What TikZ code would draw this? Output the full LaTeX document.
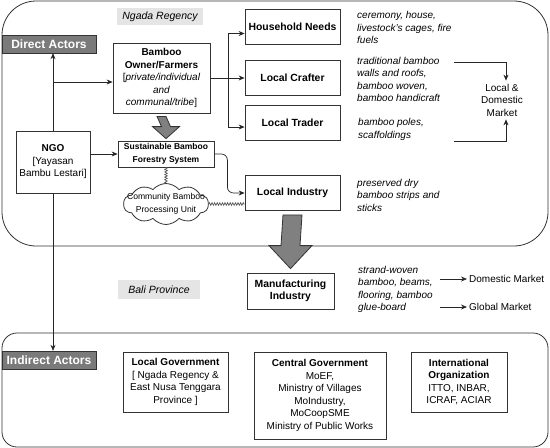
\documentclass[tikz,border=0pt]{standalone}
\usepackage{fontspec}
\setmainfont{Liberation Sans}
\usetikzlibrary{arrows.meta, shapes.symbols, decorations.pathmorphing, calc}

% fat block arrow: #1 top, #2 tip, #3 shaft half width, #4 head half width, #5 head length
\newcommand\fatarrow[5]{%
    \draw[fat_arrow] ($(#1)+(-#3,0)$) -- ($(#1)+(#3,0)$) -- ($(#2)+(#3,-#5)$) -- ($(#2)+(#4,-#5)$)
        -- (#2) -- ($(#2)+(-#4,-#5)$) -- ($(#2)+(-#3,-#5)$) -- cycle;}

\begin{document}
\begin{tikzpicture}[
    x=1pt, y=-1pt,
    base_font/.style={font=\fontsize{10}{12.5}\selectfont},
    box_style/.style={draw=black!80, line width=0.8pt, fill=white, align=center, inner sep=0pt, base_font},
    bold_box/.style={box_style, font=\fontsize{10.4}{12.5}\selectfont\bfseries, minimum width=95pt, minimum height=35pt},
    note_style/.style={align=left, inner sep=0pt, anchor=west, font=\fontsize{10}{12.5}\selectfont\itshape},
    actor_style/.style={draw=black!80, fill=black!52, text=white, inner sep=0pt, font=\fontsize{12}{14}\selectfont\bfseries, minimum width=94pt, minimum height=18pt},
    place_style/.style={fill=black!10, inner sep=0pt, font=\fontsize{10.5}{12}\selectfont\itshape},
    region_style/.style={draw=black!80, line width=0.8pt},
    arrow_style/.style={-{Stealth[length=6pt, width=5pt]}, black!85, line width=0.7pt},
    line_style/.style={black!85, line width=0.7pt},
    zigzag_style/.style={black!65, line width=0.7pt, decorate, decoration={zigzag, amplitude=1.3pt, segment length=2.6pt}},
    fat_arrow/.style={draw=black!80, fill=black!50, line width=0.8pt, line join=miter}
]
    \useasboundingbox (0,0) rectangle (550,448);

    % --- Regions ---
    \draw[region_style, rounded corners=34pt] (2,1) rectangle (548,246);
    \draw[region_style, rounded corners=15pt] (2,333) rectangle (548,447);

    % --- Region labels ---
    \node[actor_style] (direct) at (49,44) {Direct Actors};
    \node[actor_style] (indirect) at (49,360) {Indirect Actors};
    \node[place_style, minimum width=86pt, minimum height=17pt] (ngada) at (160,16.5) {Ngada Regency};
    \node[place_style, minimum width=82pt, minimum height=19pt] (bali) at (159,289.5) {Bali Province};

    % --- Direct actors ---
    \node[box_style, minimum width=97pt, minimum height=70pt] (bamboo) at (161.5,78)
        {\textbf{Bamboo}\\ \textbf{Owner/Farmers}\\ {[}\textit{private/individual}\\ \textit{and}\\ \textit{communal/tribe}{]}};
    \node[box_style, minimum width=96pt, minimum height=26pt, font=\fontsize{8.5}{12.5}\selectfont\bfseries] (sbfs) at (166,154)
        {Sustainable Bamboo\\ Forestry System};
    \node[box_style, minimum width=74pt, minimum height=62pt] (ngo) at (53,162)
        {\textbf{NGO}\\ {[}Yayasan\\ Bambu Lestari{]}};
    \node[cloud, draw=black!80, line width=0.8pt, fill=white, cloud puffs=10, cloud puff arc=100, aspect=2.8,
          inner xsep=-9pt, inner ysep=-3pt, align=center,
          font=\fontsize{8.6}{12.5}\selectfont] (cbpu) at (166,204) {Community Bamboo\\ Processing Unit};

    \node[bold_box] (household) at (292.5,26.5) {Household Needs};
    \node[bold_box] (crafter) at (292.5,78) {Local Crafter};
    \node[bold_box] (trader) at (292.5,123) {Local Trader};
    \node[bold_box] (industry) at (292.5,193) {Local Industry};
    \node[bold_box, minimum width=87pt, minimum height=36pt] (manufacturing) at (290.5,291) {Manufacturing\\ Industry};

    % --- Products ---
    \node[note_style] (household_use) at (357,27.5) {ceremony, house,\\ livestock's cages, fire\\ fuels};
    \node[note_style] (crafter_use) at (357,79.5) {traditional bamboo\\ walls and roofs,\\ bamboo woven,\\ bamboo handicraft};
    \node[note_style] (trader_use) at (358,129.5) {bamboo poles,\\ scaffoldings};
    \node[note_style] (industry_use) at (357,195) {preserved dry\\ bamboo strips and\\ sticks};
    \node[note_style] (manufacturing_use) at (358,289.5) {strand-woven\\ bamboo, beams,\\ flooring, bamboo\\ glue-board};

    % --- Markets ---
    \node[base_font, align=center, inner sep=3pt] (local_market) at (502,100) {Local \&\\ Domestic\\ Market};
    \node[base_font, anchor=west, inner sep=2pt] (domestic_market) at (467,279) {Domestic Market};
    \node[base_font, anchor=west, inner sep=2pt] (global_market) at (467,307) {Global Market};

    % --- Indirect actors ---
    \node[box_style, minimum width=105pt, minimum height=60pt] (localgov) at (175.5,382)
        {\textbf{Local Government}\\ {[} Ngada Regency \&\\ East Nusa Tenggara\\ Province {]}};
    \node[box_style, minimum width=132pt, minimum height=87pt] (centralgov) at (320,395.5)
        {\textbf{Central Government}\\ MoEF,\\ Ministry of Villages\\ MoIndustry,\\ MoCoopSME\\ Ministry of Public Works};
    \node[box_style, minimum width=96pt, minimum height=60pt] (intl) at (459,382)
        {\textbf{International}\\ \textbf{Organization}\\ ITTO, INBAR,\\ ICRAF, ACIAR};

    % --- NGO links ---
    \coordinate (bamboo_in) at ([yshift=-4pt]bamboo.west);
    \draw[arrow_style] (ngo.north) -- (ngo.north |- direct.south);
    \draw[arrow_style] (ngo.north |- bamboo_in) -- (bamboo_in);
    \draw[arrow_style] (ngo.east |- sbfs.west) -- (sbfs.west);
    \draw[arrow_style] (ngo.south) -- (ngo.south |- indirect.north);

    % --- Bamboo owners to users ---
    \coordinate (fork) at (228,78);
    \draw[line_style] (bamboo.east) -- (fork);
    \draw[arrow_style] (fork) -- (crafter.west);
    \draw[arrow_style] (fork) |- ([yshift=-7pt]household.west);
    \draw[arrow_style] (fork) |- ([yshift=-4pt]trader.west);
    \draw[arrow_style, rounded corners=6pt] (sbfs.east) -- ++(13,0) |- (industry.west);

    % --- Community unit (zigzag links) ---
    \draw[zigzag_style] (sbfs.south) -- (cbpu.north);
    \draw[zigzag_style] (cbpu.east) -- (cbpu.east -| industry.west);

    % --- Fat arrows ---
    \coordinate (down_top) at ([yshift=-3pt]bamboo.south);
    \coordinate (down_tip) at ([yshift=2pt]sbfs.north);
    \fatarrow{down_top}{down_tip}{4.5}{13.5}{12}
    \coordinate (manuf_top) at ([yshift=-4pt]industry.south);
    \coordinate (manuf_tip) at ([yshift=4pt]manufacturing.north);
    \fatarrow{manuf_top}{manuf_tip}{9.5}{21.5}{23}

    % --- Market arrows ---
    \coordinate (crafter_out) at (454,62);
    \coordinate (trader_out) at (454,141);
    \draw[arrow_style] (crafter_out) -| ([xshift=4pt]local_market.north);
    \draw[arrow_style] (trader_out) -| ([xshift=4pt]local_market.south);
    \coordinate (manuf_out_a) at (440,279);
    \coordinate (manuf_out_b) at (440,307);
    \draw[arrow_style] (manuf_out_a) -- (domestic_market.west);
    \draw[arrow_style] (manuf_out_b) -- (global_market.west);

\end{tikzpicture}
\end{document}
